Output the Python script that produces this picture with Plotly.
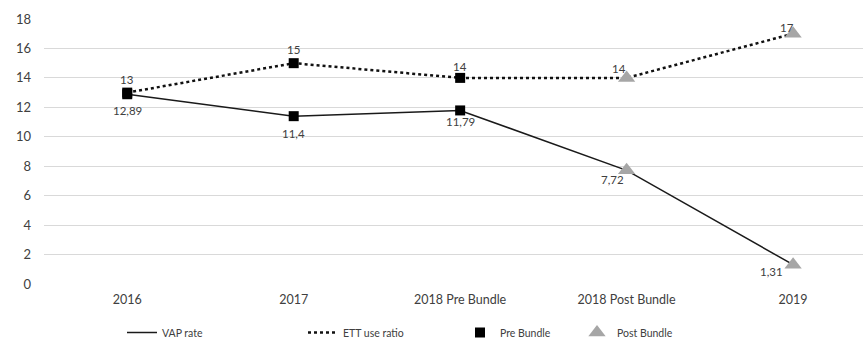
import plotly.graph_objects as go

# Chart data
categories = ["2016", "2017", "2018 Pre Bundle", "2018 Post Bundle", "2019"]
vap_rate = [12.89, 11.4, 11.79, 7.72, 1.31]
ett_use_ratio = [13, 15, 14, 14, 17]
pre_bundle_count = 3  # first three periods are before the bundle

y_ticks = [0, 2, 4, 6, 8, 10, 12, 14, 16, 18]

FONT = "Lato, Open Sans, sans-serif"
TEXT_COLOR = "#404040"


def fmt(v):
    return f"{v:g}".replace(".", ",")


pre_x = categories[:pre_bundle_count] * 2
pre_y = vap_rate[:pre_bundle_count] + ett_use_ratio[:pre_bundle_count]
post_x = categories[pre_bundle_count:] * 2
post_y = vap_rate[pre_bundle_count:] + ett_use_ratio[pre_bundle_count:]

fig = go.Figure()

fig.add_trace(go.Scatter(
    x=categories, y=vap_rate, mode="lines", name="VAP rate",
    line=dict(color="#1a1a1a", width=1.5), legend="legend",
))
fig.add_trace(go.Scatter(
    x=categories, y=ett_use_ratio, mode="lines", name="ETT use ratio",
    line=dict(color="#111111", width=2.5, dash="3px,3px"), legend="legend2",
))
fig.add_trace(go.Scatter(
    x=pre_x, y=pre_y, mode="markers", name="Pre Bundle",
    marker=dict(symbol="square", size=10, color="#000000"), legend="legend3",
))
fig.add_trace(go.Scatter(
    x=post_x, y=post_y, mode="markers", name="Post Bundle",
    marker=dict(symbol="triangle-up", size=15, color="#a6a6a6"), legend="legend4",
))

# Value labels: (xshift, yshift, xanchor, yanchor) per point
vap_label_style = [
    (0, -8, "center", "top"),
    (0, -9, "center", "top"),
    (0, -3, "center", "top"),
    (-14, -1, "center", "top"),
    (-8, -7, "right", "middle"),
]
ett_label_style = [
    (0, 5, "center", "bottom"),
    (0, 5, "center", "bottom"),
    (0, 3, "center", "bottom"),
    (-8, 1, "center", "bottom"),
    (-6, -2, "center", "bottom"),
]

annotations = []
for series, styles in ((vap_rate, vap_label_style), (ett_use_ratio, ett_label_style)):
    for i, (val, (dx, dy, xa, ya)) in enumerate(zip(series, styles)):
        annotations.append(dict(
            x=i, y=val, xref="x", yref="y", text=fmt(val), showarrow=False,
            xshift=dx, yshift=dy, xanchor=xa, yanchor=ya,
            font=dict(family=FONT, size=11.5, color=TEXT_COLOR),
        ))


def legend_at(px):
    return dict(
        orientation="h", xref="container", yref="container",
        x=px / 863, y=1 - 318 / 344, xanchor="left", yanchor="top",
        font=dict(family=FONT, size=10.5, color=TEXT_COLOR),
        bgcolor="rgba(0,0,0,0)", borderwidth=0, itemclick=False,
        itemdoubleclick=False,
    )


fig.update_layout(
    width=863, height=344,
    margin=dict(l=44, r=0, t=19, b=60),
    paper_bgcolor="white", plot_bgcolor="white",
    font=dict(family=FONT, color=TEXT_COLOR),
    hovermode=False,
    showlegend=True,
    annotations=annotations,
    legend=legend_at(122),
    legend2=legend_at(303),
    legend3=legend_at(460),
    legend4=legend_at(577),
    xaxis=dict(
        type="category", categoryorder="array", categoryarray=categories,
        range=[-0.5, 4.42], showgrid=False, zeroline=False, showline=False,
        ticks="", ticklabelstandoff=6,
        tickfont=dict(family=FONT, size=12.5, color=TEXT_COLOR),
    ),
    yaxis=dict(
        range=[0, 18], tickvals=y_ticks, showgrid=True, gridcolor="#d9d9d9",
        gridwidth=1, zeroline=False, showline=False, ticks="",
        ticklabelstandoff=12,
        tickfont=dict(family=FONT, size=13, color=TEXT_COLOR),
    ),
)

fig.write_html("out.html")
